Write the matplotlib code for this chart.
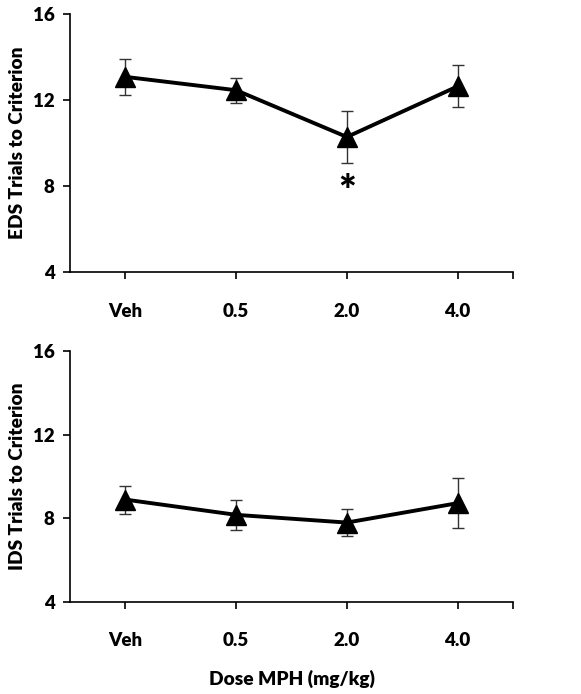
import matplotlib
matplotlib.use("Agg")
import matplotlib.pyplot as plt

plt.rcParams['font.family'] = ['Lato', 'DejaVu Sans']
plt.rcParams['font.weight'] = 'bold'

doses = ["Veh", "0.5", "2.0", "4.0"]
eds_mean = [13.06, 12.44, 10.27, 12.62]
eds_sem = [0.85, 0.59, 1.19, 0.98]
ids_mean = [8.89, 8.16, 7.79, 8.72]
ids_sem = [0.67, 0.73, 0.63, 1.2]
yticks = [4, 8, 12, 16]

fig = plt.figure(figsize=(5.81, 6.94), dpi=100)
ax1 = fig.add_axes([0.1205, 0.608, 0.7625, 0.3725])
ax2 = fig.add_axes([0.1205, 0.133, 0.7625, 0.361])

xpos = [i + 0.5 for i in range(len(doses))]

def style(ax, ylabel):
    ax.set_xlim(0, 4)
    ax.set_ylim(4, 16)
    ax.set_yticks(yticks)
    ax.set_yticklabels([str(t) for t in yticks])
    ax.set_xticks(xpos)
    ax.set_xticklabels(doses)
    ax.set_xticks([4], minor=True)
    ax.spines['top'].set_visible(False)
    ax.spines['right'].set_visible(False)
    for s in ('left', 'bottom'):
        ax.spines[s].set_linewidth(1.2)
    ax.tick_params(axis='both', which='both', direction='out', length=5, width=1.2,
                   labelsize=13.5)
    ax.tick_params(axis='x', pad=17)
    ax.tick_params(axis='y', pad=6)
    for lab in ax.get_xticklabels() + ax.get_yticklabels():
        lab.set_fontweight('heavy')
    ax.set_ylabel(ylabel, fontsize=13.8, fontweight='heavy', labelpad=5)

for ax, m, e, lab in [(ax1, eds_mean, eds_sem, "EDS Trials to Criterion"),
                      (ax2, ids_mean, ids_sem, "IDS Trials to Criterion")]:
    ax.errorbar(xpos, m, yerr=e, fmt='none', ecolor='#333333', elinewidth=1.0,
                capsize=4, capthick=1.0, zorder=2)
    ax.plot(xpos, m, color='black', linewidth=2.8, marker='^', markersize=15,
            markerfacecolor='black', markeredgecolor='black', zorder=3)
    style(ax, lab)

ax1.text(xpos[2], eds_mean[2] - eds_sem[2] - 0.55, "*", ha='center', va='top',
         fontsize=30, fontweight='heavy')

ax2.set_xlabel("Dose MPH (mg/kg)", fontsize=13.8, fontweight='heavy', labelpad=15)

fig.savefig("out.png", dpi=100)
